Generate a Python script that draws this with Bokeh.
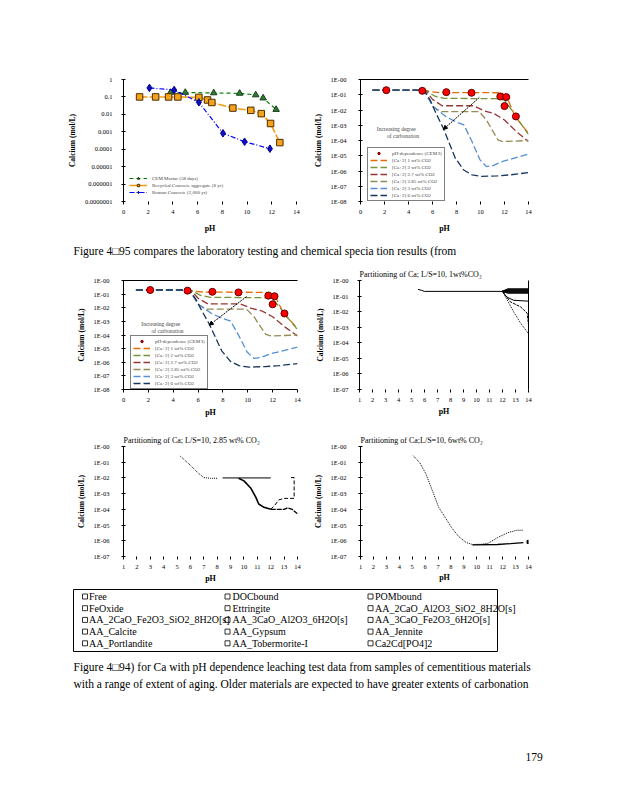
from bokeh.plotting import figure
from bokeh.models import (Range1d, FixedTicker, Legend, LegendItem, Arrow, NormalHead,
                          LinearAxis, LogAxis, Label, Spacer)
from bokeh.layouts import column, row
from bokeh.embed import file_html
from bokeh.resources import INLINE
from bokeh.core.properties import value

SERIF = "Liberation Serif"

# ---------------- data ----------------
# chart 1 (laboratory data)
cem_ph = [3.8, 5.0, 7.3, 9.4, 10.7, 11.3, 12.35]
cem_ca = [0.18, 0.18, 0.17, 0.16, 0.13, 0.086, 0.019]
rca_ph = [1.3, 2.6, 3.65, 4.4, 6.1, 6.8, 7.15, 8.85, 10.3, 11.15, 11.9, 12.65]
rca_ca = [0.10, 0.10, 0.10, 0.10, 0.094, 0.067, 0.048, 0.023, 0.017, 0.011, 0.003, 0.00024]
roman_ph = [2.1, 4.1, 6.1, 8.05, 9.8, 11.85]
roman_ca = [0.33, 0.25, 0.049, 0.00082, 0.00027, 0.000107]
chart1_names = ["CEM Mortar (58 days)", "Recycled Concrete aggregate (8 yr)", "Roman Concrete (2,000 yr)"]
chart1_ylabels = ["0.0000001", "0.000001", "0.00001", "0.0001", "0.001", "0.01", "0.1", "1"]

# charts 2 & 3 (model vs pH-dependence)
lab_ph = [2.15, 5.15, 7.15, 9.25, 11.65, 12.15, 12.0, 12.95]
lab_ca = [0.2, 0.18, 0.148, 0.134, 0.077, 0.07, 0.018, 0.0038]
w1_ph = [1.0, 5.3, 5.8, 6.5, 11.8, 12.3, 12.9, 14.0]
w1_ca = [0.2, 0.2, 0.16, 0.14, 0.135, 0.045, 0.0036, 0.0003]
w2_ph = [1.0, 5.4, 6.2, 7.0, 11.3, 12.0, 12.6, 13.3, 14.0]
w2_ca = [0.2, 0.2, 0.08, 0.058, 0.055, 0.045, 0.01, 0.0015, 0.00025]
w27_ph = [1.0, 5.4, 6.0, 6.8, 9.4, 10.3, 11.1, 12.0, 13.0, 14.0]
w27_ca = [0.2, 0.2, 0.05, 0.019, 0.019, 0.0089, 0.006, 0.0022, 0.00038, 0.000085]
w285_ph = [1.0, 5.3, 6.1, 6.7, 9.9, 10.5, 11.05, 11.45, 11.85, 14.0]
w285_ca = [0.2, 0.2, 0.0158, 0.0078, 0.0078, 0.0022, 0.00038, 0.00011, 0.000085, 0.0001]
w3_ph = [1.0, 5.3, 5.65, 6.06, 7.13, 7.94, 8.62, 9.29, 9.96, 10.5, 11.0, 11.85, 14.0]
w3_ca = [0.2, 0.2, 0.058, 0.0162, 0.0036, 0.0017, 0.00105, 0.000085, 0.0000054, 0.00000195,
         0.0000022, 0.0000042, 0.000013]
w6_ph = [1.0, 5.3, 5.8, 6.3, 6.9, 7.4, 7.9, 8.6, 9.3, 10.1, 11.4, 12.5, 14.0]
w6_ca = [0.2, 0.2, 0.045, 0.006, 0.00063, 0.000066, 0.0000069, 0.00000117, 0.00000056,
         0.00000044, 0.00000048, 0.00000056, 0.00000079]
model_names = ["[Ca+2] 1 wt% CO2", "[Ca+2] 2 wt% CO2", "[Ca+2] 2.7 wt% CO2",
               "[Ca+2] 2.85 wt% CO2", "[Ca+2] 3 wt% CO2", "[Ca+2] 6 wt% CO2"]
lab_name = "pH-dependence (CEM I)"
sci_labels8 = ["1E-08", "1E-07", "1E-06", "1E-05", "1E-04", "1E-03", "1E-02", "1E-01", "1E-00"]
sci_labels7 = ["1E-07", "1E-06", "1E-05", "1E-04", "1E-03", "1E-02", "1E-01", "1E-00"]

# chart 4 (1 wt% CO2 partitioning)
c4_main_ph = [5.5, 5.8, 6.0, 12.0]
c4_main_ca = [0.27, 0.23, 0.2, 0.2]
c4_band_ph = [12.0, 12.4, 14.0]
c4_band_ca = [[0.2, 0.28, 0.28], [0.2, 0.245, 0.245], [0.2, 0.215, 0.215],
              [0.2, 0.185, 0.185], [0.2, 0.16, 0.16]]
c4_s2_ph = [12.0, 12.3, 12.85, 14.0]
c4_s2_ca = [0.2, 0.09, 0.054, 0.047]
c4_s3_ph = [12.0, 12.6, 13.4, 13.9, 14.0]
c4_s3_ca = [0.2, 0.043, 0.02, 0.008, 0.0014]
c4_s4_ph = [12.0, 12.3, 12.85, 13.4, 14.0]
c4_s4_ca = [0.2, 0.07, 0.01, 0.0018, 0.00038]

# chart 5 (2.85 wt% CO2 partitioning)
c5_a_ph = [5.25, 6.0, 6.6, 7.0, 7.5, 8.0]
c5_a_ca = [0.24, 0.064, 0.0196, 0.0105, 0.0095, 0.0095]
c5_b_ph = [8.4, 12.0]
c5_b_ca = [0.01, 0.01]
c5_c_ph = [9.6, 10.0, 10.5, 10.9, 11.1, 11.5, 12.0]
c5_c_ca = [0.0095, 0.0065, 0.0023, 0.00056, 0.00022, 0.000135, 0.0001]
c5_d_ph = [12.0, 12.3, 12.6, 13.0, 13.75, 13.75, 13.5]
c5_d_ca = [0.0001, 0.00018, 0.0004, 0.0005, 0.0005, 0.0105, 0.0105]
c5_e_ph = [12.0, 13.0, 13.25, 13.6, 14.0]
c5_e_ca = [0.0001, 0.0001, 0.000123, 0.0001, 0.000052]

# chart 6 (6 wt% CO2 partitioning)
c6_a_ph = [5.08, 5.58, 6.07, 6.57, 7.06, 7.56, 8.05, 8.55, 9.17, 9.66, 10.4, 10.9, 11.6, 12.4, 13.1, 13.6]
c6_a_ca = [0.26, 0.095, 0.0174, 0.0015, 0.000129, 0.00003, 0.0000069, 0.00000204, 0.00000078,
           0.00000058, 0.0000006, 0.00000071, 0.00000158, 0.0000033, 0.0000047, 0.0000047]
c6_b_ph = [9.66, 11.6, 12.6, 13.6]
c6_b_ca = [0.00000055, 0.00000058, 0.00000066, 0.00000076]
c6_end_ph = [14.0]
c6_end_ca = [0.00000085]

# legend box below the charts
species = ["Free", "DOCbound", "POMbound",
           "FeOxide", "Ettringite", "AA_2CaO_Al2O3_SiO2_8H2O[s]",
           "AA_2CaO_Fe2O3_SiO2_8H2O[s]", "AA_3CaO_Al2O3_6H2O[s]", "AA_3CaO_Fe2O3_6H2O[s]",
           "AA_Calcite", "AA_Gypsum", "AA_Jennite",
           "AA_Portlandite", "AA_Tobermorite-I", "Ca2Cd[PO4]2"]

text_top = "Figure 4\u25a195 compares the laboratory testing and chemical specia tion results (from"
text_bottom = ["Figure 4\u25a194) for Ca with pH dependence leaching test data from samples of cementitious materials",
               "with a range of extent of aging.  Older materials are expected  to have greater extents of carbonation"]
page_no = "179"

model_colors = ["#E46C0A", "#77933C", "#953735", "#948A54", "#558ED5", "#17375E"]


# ---------------- helpers ----------------
def chart(width, height, left, top, fw, fh, xr, yr, yticks, ylabels, xticks,
          title=None, ylab_standoff=9, show_xline=False, ph_standoff=3):
    p = figure(width=width, height=height, x_range=Range1d(*xr), y_range=Range1d(*yr),
               y_axis_type="log", output_backend="svg", toolbar_location=None,
               min_border_left=left, min_border_top=top,
               min_border_right=width - left - fw, min_border_bottom=height - top - fh)
    p.outline_line_color = None
    p.grid.visible = False
    p.background_fill_color = "white"
    p.border_fill_color = "white"
    if title:
        p.title.text = title
        p.title.text_font = SERIF
        p.title.text_font_size = "8px"
        p.title.text_font_style = "normal"
        p.title.text_color = "black"
        p.title.align = "left"
        p.title.standoff = 3
    xa = p.xaxis[0]
    xa.ticker = FixedTicker(ticks=xticks)
    xa.axis_label = "pH"
    xa.axis_label_text_font = SERIF
    xa.axis_label_text_font_size = "8px"
    xa.axis_label_text_font_style = "bold"
    xa.axis_label_text_color = "black"
    xa.axis_label_standoff = ph_standoff
    xa.major_label_text_font = SERIF
    xa.major_label_text_font_size = "6.5px"
    xa.major_label_text_color = "black"
    xa.major_label_standoff = 5
    xa.major_tick_out = 3
    xa.major_tick_in = 0
    xa.minor_tick_out = 0
    xa.axis_line_color = "black" if show_xline else None
    ya = p.yaxis[0]
    ya.ticker = FixedTicker(ticks=yticks)
    ya.major_label_overrides = {t: lab for t, lab in zip(yticks, ylabels)}
    ya.axis_label = "Calcium (mol/L)"
    ya.axis_label_text_font = SERIF
    ya.axis_label_text_font_size = "7.5px"
    ya.axis_label_text_font_style = "bold"
    ya.axis_label_text_color = "black"
    ya.axis_label_standoff = 5
    ya.major_label_text_font = SERIF
    ya.major_label_text_font_size = "6.5px"
    ya.major_label_text_color = "black"
    ya.major_label_standoff = ylab_standoff
    ya.major_tick_out = 2
    ya.major_tick_in = 2
    ya.minor_tick_out = 0
    return p


def border_axis(p, side, log=False):
    ax = LogAxis() if log else LinearAxis()
    ax.ticker = FixedTicker(ticks=[])
    ax.major_tick_out = 0
    ax.major_tick_in = 0
    ax.minor_tick_out = 0
    ax.minor_tick_in = 0
    ax.major_label_standoff = 0
    ax.major_label_text_font_size = "0px"
    ax.axis_line_color = "black"
    p.add_layout(ax, side)


def page_fig(height):
    f = figure(width=602, height=height, x_range=Range1d(0, 602), y_range=Range1d(height, 0),
               output_backend="svg", toolbar_location=None, min_border=0,
               x_axis_location=None, y_axis_location=None)
    f.outline_line_color = None
    f.grid.visible = False
    return f


decades8 = [10.0 ** k for k in range(-8, 1)]
decades7 = [10.0 ** k for k in range(-7, 1)]


# ---------------- chart 1 ----------------
pA = chart(302, 230, 115, 69, 173, 127, (0, 14), (1e-7, 1), decades7, chart1_ylabels,
           list(range(0, 15, 2)), ylab_standoff=9, ph_standoff=7)
g1 = pA.line(cem_ph, cem_ca, line_color="#008000", line_dash="4 3", line_width=1.2)
m1 = pA.scatter(cem_ph, cem_ca, marker="triangle", size=6.5, fill_color="#2E7D32", line_color="#1B3D1B")
g2 = pA.line(rca_ph, rca_ca, line_color="#F39C12", line_dash="8 2", line_width=1.6)
m2 = pA.scatter(rca_ph, rca_ca, marker="square", size=6.5, fill_color="#F7A21B", line_color="#4A3000")
g3 = pA.line(roman_ph, roman_ca, line_color="#0000FF", line_dash="5 2 1 2", line_width=1.2)
m3 = pA.scatter(roman_ph, roman_ca, marker="diamond", size=7.5, fill_color="#1010C0", line_color="#00008B")
legA = Legend(items=[LegendItem(label=chart1_names[0], renderers=[g1, m1]),
                     LegendItem(label=chart1_names[1], renderers=[g2, m2]),
                     LegendItem(label=chart1_names[2], renderers=[g3, m3])],
              location=(6, 6), label_text_font=SERIF, label_text_font_size="5px",
              label_height=6, glyph_height=6, glyph_width=18, spacing=1, padding=2, margin=0,
              border_line_color=None, background_fill_alpha=0)
pA.add_layout(legA)


# ---------------- charts 2 & 3 ----------------
def model_chart(width, height, left, top, fw, fh, with_xline, ph_standoff):
    p = chart(width, height, left, top, fw, fh, (0, 14), (1e-8, 1), decades8, sci_labels8,
              list(range(0, 15, 2)), ylab_standoff=12, show_xline=with_xline,
              ph_standoff=ph_standoff)
    border_axis(p, "above")
    series = [(w1_ph, w1_ca), (w2_ph, w2_ca), (w27_ph, w27_ca), (w285_ph, w285_ca),
              (w3_ph, w3_ca), (w6_ph, w6_ca)]
    rends = []
    for (xs, ys), col in zip(series, model_colors):
        rends.append(p.line(xs, ys, line_color=col, line_dash="7 3", line_width=1.3))
    lab = p.scatter(lab_ph, lab_ca, marker="circle", size=7, fill_color="#FF0000", line_color="#600000")
    items = [LegendItem(label=lab_name, renderers=[lab])] + \
            [LegendItem(label=n, renderers=[r]) for n, r in zip(model_names, rends)]
    leg = Legend(items=items, location=(7, 0), label_text_font=SERIF, label_text_font_size="5px",
                 label_height=6, glyph_height=6, glyph_width=17, spacing=1, padding=2, margin=0,
                 border_line_color="black", border_line_width=1, background_fill_color="white",
                 background_fill_alpha=1)
    p.add_layout(leg)
    head = NormalHead(size=4, fill_color="black", line_color="black")
    p.add_layout(Arrow(end=head, x_start=9.9, y_start=0.066, x_end=6.9, y_end=0.00053,
                       line_color="black", line_dash="2 1", line_width=1))
    p.add_layout(Label(x=3.5, y=0.0006, text="Increasing          degree", text_font=SERIF,
                       text_font_size="5.5px", text_align="center", text_baseline="middle"))
    p.add_layout(Label(x=3.6, y=0.00021, text="of  carbonation", text_font=SERIF,
                       text_font_size="5.5px", text_align="center", text_baseline="middle"))
    return p


pB = model_chart(300, 230, 46, 71, 172, 122, False, 7)
pC = model_chart(302, 158, 115, 5, 174, 122, True, 3)


# ---------------- chart 4 ----------------
pD = chart(300, 158, 49, 18, 169, 111, (1, 14), (1e-7, 1), decades7, sci_labels7,
           list(range(1, 15)), title="Partitioning of Ca;  L/S=10,  1wt%CO\u2082", ylab_standoff=9,
           ph_standoff=2)
border_axis(pD, "right", log=True)
pD.line(c4_main_ph, c4_main_ca, line_color="black", line_width=1)
pD.multi_line([c4_band_ph] * len(c4_band_ca), c4_band_ca, line_color="black", line_width=1.5)
pD.line(c4_s2_ph, c4_s2_ca, line_color="black", line_width=1)
pD.line(c4_s3_ph, c4_s3_ca, line_color="black", line_dash="3 1", line_width=1)
pD.line(c4_s4_ph, c4_s4_ca, line_color="black", line_dash="1 1", line_width=1)


# ---------------- chart 5 ----------------
pE = chart(302, 168, 115, 24, 174, 113, (1, 14), (1e-7, 1), decades7, sci_labels7,
           list(range(1, 15)), title="Partitioning of Ca;  L/S=10,  2.85 wt%  CO\u2082", ylab_standoff=12,
           ph_standoff=2)
pE.line(c5_a_ph, c5_a_ca, line_color="black", line_dash="1 1", line_width=1)
pE.line(c5_b_ph, c5_b_ca, line_color="black", line_width=1)
pE.line(c5_c_ph, c5_c_ca, line_color="black", line_width=1.6)
pE.line(c5_d_ph, c5_d_ca, line_color="black", line_dash="4 2", line_width=1)
pE.line(c5_e_ph, c5_e_ca, line_color="black", line_dash="5 1", line_width=1.3)


# ---------------- chart 6 ----------------
pF = chart(300, 168, 43, 26, 175, 110, (1, 14), (1e-7, 1), decades7, sci_labels7,
           list(range(1, 15)), title="Partitioning of Ca;L/S=10,  6wt%  CO\u2082", ylab_standoff=12,
           ph_standoff=1)
pF.line(c6_a_ph, c6_a_ca, line_color="black", line_dash="1 1", line_width=1)
pF.line(c6_b_ph, c6_b_ca, line_color="black", line_width=1.3)
pF.scatter(c6_end_ph, c6_end_ca, marker="square", size=3, fill_color="black", line_color="black")


# ---------------- page text ----------------
T1 = page_fig(24)
T1.text(x=[65], y=[12], text=[text_top], text_font=value(SERIF), text_font_size="11.5px",
        text_baseline="middle", text_color="black")

L = page_fig(67)
L.quad(left=[65], right=[489], top=[1], bottom=[63], fill_color=None, line_color="black", line_width=1)
col_box = [76.5, 219, 362]
col_txt = [80.5, 224, 366.5]
bx = [col_box[i % 3] for i in range(len(species))]
tx = [col_txt[i % 3] for i in range(len(species))]
ty = [8 + 11.7 * (i // 3) for i in range(len(species))]
L.scatter(bx, ty, marker="square", size=5, fill_color=None, line_color="black", line_width=0.8)
L.text(x=tx, y=ty, text=species, text_font=value(SERIF), text_font_size="10px",
       text_baseline="middle", text_color="black")

T2 = page_fig(137)
T2.text(x=[65, 65], y=[11, 28], text=text_bottom, text_font=value(SERIF), text_font_size="11.5px",
        text_baseline="middle", text_color="black")
T2.text(x=[517], y=[101], text=[page_no], text_font=value(SERIF), text_font_size="11.5px",
        text_baseline="middle", text_color="black")

content = column(row(pA, pB), T1, row(pC, pD), row(pE, pF), L, T2)
layout = column(Spacer(height=8), row(Spacer(width=8), content))

open("out.html", "w").write(file_html(layout, INLINE))
